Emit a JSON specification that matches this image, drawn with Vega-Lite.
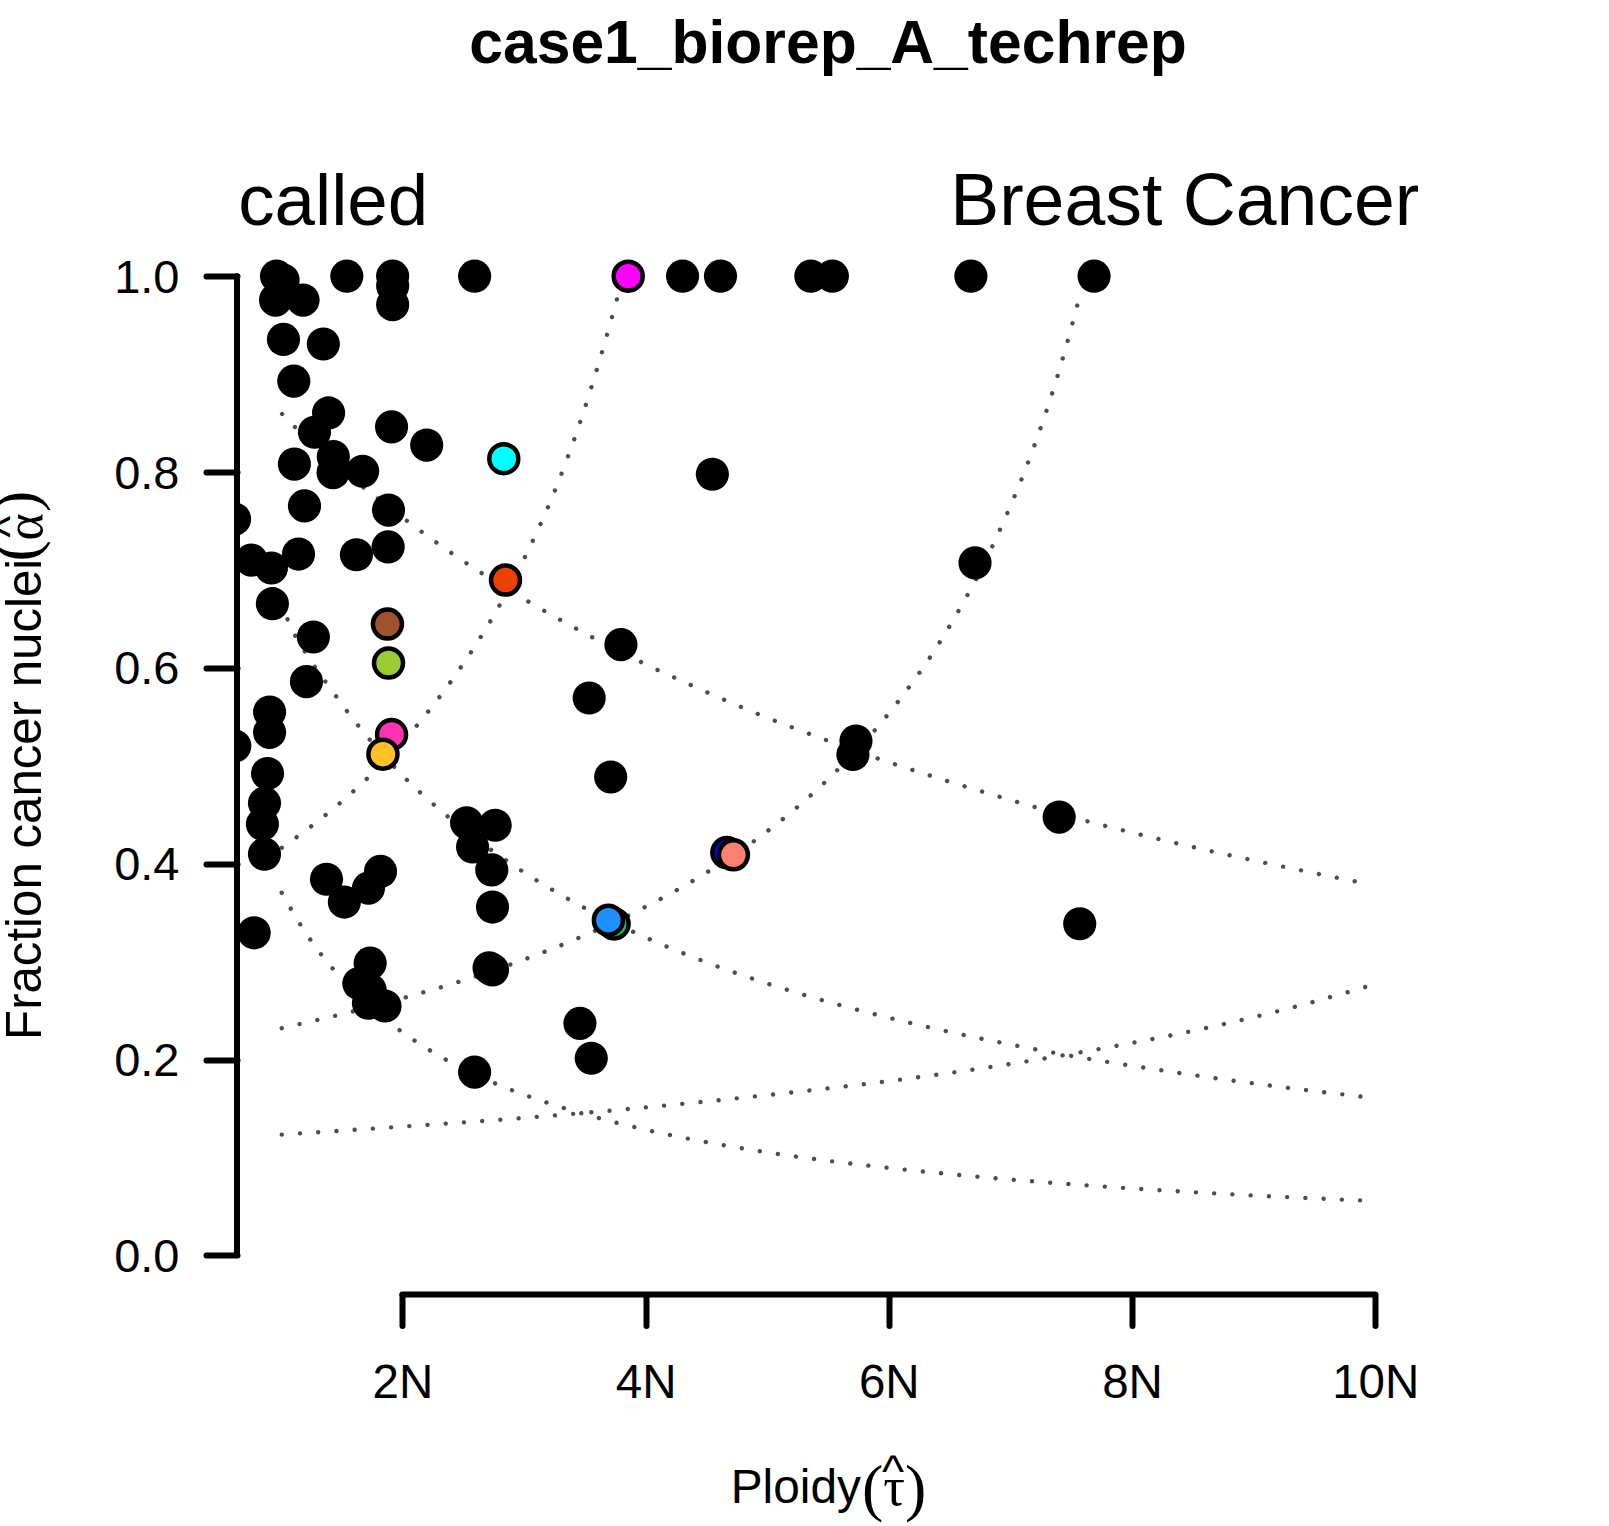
{
  "$schema": "https://vega.github.io/schema/vega-lite/v6.json",
  "description": "Ploidy against fraction of cancer nuclei, with dotted copy-number isolines",
  "width": 1182,
  "height": 1057.5,
  "autosize": {"type": "none"},
  "padding": {"left": 237, "top": 237, "right": 190, "bottom": 231.5},
  "background": "white",
  "config": {"view": {"stroke": null}, "font": "Liberation Sans"},
  "title": {
    "text": "case1_biorep_A_techrep",
    "font": "Liberation Sans",
    "fontSize": 60.6,
    "fontWeight": "bold",
    "color": "black",
    "anchor": "middle",
    "frame": "group",
    "baseline": "alphabetic",
    "offset": 43
  },
  "datasets": {
    "isolines": [
      {"curve": "f1", "ploidy": 1.011, "alpha": 0.8592},
      {"curve": "f1", "ploidy": 1.115, "alpha": 0.8461},
      {"curve": "f1", "ploidy": 2.041, "alpha": 0.7498},
      {"curve": "f1", "ploidy": 2.659, "alpha": 0.6961},
      {"curve": "f1", "ploidy": 3.046, "alpha": 0.6669},
      {"curve": "f1", "ploidy": 3.572, "alpha": 0.6305},
      {"curve": "f1", "ploidy": 3.975, "alpha": 0.6051},
      {"curve": "f1", "ploidy": 4.387, "alpha": 0.5816},
      {"curve": "f1", "ploidy": 4.941, "alpha": 0.552},
      {"curve": "f1", "ploidy": 5.504, "alpha": 0.5254},
      {"curve": "f1", "ploidy": 5.929, "alpha": 0.5066},
      {"curve": "f1", "ploidy": 6.504, "alpha": 0.4836},
      {"curve": "f1", "ploidy": 7.226, "alpha": 0.457},
      {"curve": "f1", "ploidy": 8.69, "alpha": 0.4117},
      {"curve": "f1", "ploidy": 9.28, "alpha": 0.396},
      {"curve": "f1", "ploidy": 9.88, "alpha": 0.3808},
      {"curve": "f2", "ploidy": 1.0, "alpha": 0.667},
      {"curve": "f2", "ploidy": 1.084, "alpha": 0.6414},
      {"curve": "f2", "ploidy": 1.237, "alpha": 0.6093},
      {"curve": "f2", "ploidy": 1.41, "alpha": 0.5786},
      {"curve": "f2", "ploidy": 1.588, "alpha": 0.5487},
      {"curve": "f2", "ploidy": 1.985, "alpha": 0.4921},
      {"curve": "f2", "ploidy": 2.319, "alpha": 0.4538},
      {"curve": "f2", "ploidy": 2.919, "alpha": 0.3978},
      {"curve": "f2", "ploidy": 3.437, "alpha": 0.3589},
      {"curve": "f2", "ploidy": 3.977, "alpha": 0.3259},
      {"curve": "f2", "ploidy": 4.536, "alpha": 0.2976},
      {"curve": "f2", "ploidy": 5.106, "alpha": 0.2734},
      {"curve": "f2", "ploidy": 5.684, "alpha": 0.2527},
      {"curve": "f2", "ploidy": 6.272, "alpha": 0.2346},
      {"curve": "f2", "ploidy": 7.305, "alpha": 0.2081},
      {"curve": "f2", "ploidy": 8.347, "alpha": 0.187},
      {"curve": "f2", "ploidy": 9.09, "alpha": 0.1741},
      {"curve": "f2", "ploidy": 10.0, "alpha": 0.1605},
      {"curve": "f3", "ploidy": 1.008, "alpha": 0.3703},
      {"curve": "f3", "ploidy": 1.161, "alpha": 0.3378},
      {"curve": "f3", "ploidy": 1.333, "alpha": 0.3072},
      {"curve": "f3", "ploidy": 1.427, "alpha": 0.2929},
      {"curve": "f3", "ploidy": 1.982, "alpha": 0.2295},
      {"curve": "f3", "ploidy": 2.231, "alpha": 0.209},
      {"curve": "f3", "ploidy": 2.772, "alpha": 0.1751},
      {"curve": "f3", "ploidy": 3.196, "alpha": 0.1557},
      {"curve": "f3", "ploidy": 3.629, "alpha": 0.1397},
      {"curve": "f3", "ploidy": 4.068, "alpha": 0.1264},
      {"curve": "f3", "ploidy": 4.66, "alpha": 0.1121},
      {"curve": "f3", "ploidy": 5.257, "alpha": 0.1005},
      {"curve": "f3", "ploidy": 5.855, "alpha": 0.0913},
      {"curve": "f3", "ploidy": 6.455, "alpha": 0.0835},
      {"curve": "f3", "ploidy": 6.905, "alpha": 0.0784},
      {"curve": "f3", "ploidy": 7.806, "alpha": 0.0699},
      {"curve": "f3", "ploidy": 8.859, "alpha": 0.062},
      {"curve": "f3", "ploidy": 9.93, "alpha": 0.0558},
      {"curve": "r1", "ploidy": 1.008, "alpha": 0.1233},
      {"curve": "r1", "ploidy": 2.061, "alpha": 0.132},
      {"curve": "r1", "ploidy": 2.817, "alpha": 0.1386},
      {"curve": "r1", "ploidy": 3.566, "alpha": 0.1462},
      {"curve": "r1", "ploidy": 4.465, "alpha": 0.1567},
      {"curve": "r1", "ploidy": 5.216, "alpha": 0.1666},
      {"curve": "r1", "ploidy": 5.814, "alpha": 0.1751},
      {"curve": "r1", "ploidy": 6.56, "alpha": 0.1873},
      {"curve": "r1", "ploidy": 7.305, "alpha": 0.2016},
      {"curve": "r1", "ploidy": 7.9, "alpha": 0.2146},
      {"curve": "r1", "ploidy": 8.64, "alpha": 0.233},
      {"curve": "r1", "ploidy": 9.37, "alpha": 0.2548},
      {"curve": "r1", "ploidy": 9.96, "alpha": 0.2755},
      {"curve": "r2", "ploidy": 1.008, "alpha": 0.232},
      {"curve": "r2", "ploidy": 1.302, "alpha": 0.2404},
      {"curve": "r2", "ploidy": 1.594, "alpha": 0.2491},
      {"curve": "r2", "ploidy": 2.033, "alpha": 0.2637},
      {"curve": "r2", "ploidy": 2.466, "alpha": 0.2794},
      {"curve": "r2", "ploidy": 2.896, "alpha": 0.2973},
      {"curve": "r2", "ploidy": 3.456, "alpha": 0.3245},
      {"curve": "r2", "ploidy": 4.004, "alpha": 0.3562},
      {"curve": "r2", "ploidy": 4.528, "alpha": 0.393},
      {"curve": "r2", "ploidy": 4.903, "alpha": 0.4241},
      {"curve": "r2", "ploidy": 5.485, "alpha": 0.4844},
      {"curve": "r2", "ploidy": 5.995, "alpha": 0.5527},
      {"curve": "r2", "ploidy": 6.433, "alpha": 0.629},
      {"curve": "r2", "ploidy": 6.864, "alpha": 0.7275},
      {"curve": "r2", "ploidy": 7.21, "alpha": 0.8315},
      {"curve": "r2", "ploidy": 7.399, "alpha": 0.9027},
      {"curve": "r2", "ploidy": 7.56, "alpha": 0.9749},
      {"curve": "r3", "ploidy": 1.008, "alpha": 0.4162},
      {"curve": "r3", "ploidy": 1.37, "alpha": 0.4498},
      {"curve": "r3", "ploidy": 1.707, "alpha": 0.4866},
      {"curve": "r3", "ploidy": 2.121, "alpha": 0.5414},
      {"curve": "r3", "ploidy": 2.398, "alpha": 0.5859},
      {"curve": "r3", "ploidy": 2.803, "alpha": 0.6647},
      {"curve": "r3", "ploidy": 3.014, "alpha": 0.7146},
      {"curve": "r3", "ploidy": 3.26, "alpha": 0.7829},
      {"curve": "r3", "ploidy": 3.468, "alpha": 0.8533},
      {"curve": "r3", "ploidy": 3.647, "alpha": 0.9248},
      {"curve": "r3", "ploidy": 3.77, "alpha": 0.979}
    ],
    "segments": [
      {"ploidy": 0.965, "alpha": 1.0},
      {"ploidy": 1.019, "alpha": 0.996},
      {"ploidy": 0.957, "alpha": 0.9756},
      {"ploidy": 1.183, "alpha": 0.9756},
      {"ploidy": 1.543, "alpha": 1.0},
      {"ploidy": 1.92, "alpha": 1.0},
      {"ploidy": 1.92, "alpha": 0.99},
      {"ploidy": 1.92, "alpha": 0.971},
      {"ploidy": 2.594, "alpha": 1.0},
      {"ploidy": 1.022, "alpha": 0.9354},
      {"ploidy": 1.35, "alpha": 0.9307},
      {"ploidy": 1.107, "alpha": 0.8928},
      {"ploidy": 1.393, "alpha": 0.8603},
      {"ploidy": 1.277, "alpha": 0.8406},
      {"ploidy": 1.911, "alpha": 0.8461},
      {"ploidy": 2.2, "alpha": 0.8275},
      {"ploidy": 1.112, "alpha": 0.8081},
      {"ploidy": 1.432, "alpha": 0.8158},
      {"ploidy": 1.43, "alpha": 0.7994},
      {"ploidy": 1.673, "alpha": 0.8008},
      {"ploidy": 1.195, "alpha": 0.7654},
      {"ploidy": 1.886, "alpha": 0.7611},
      {"ploidy": 0.62, "alpha": 0.7519},
      {"ploidy": 0.758, "alpha": 0.71},
      {"ploidy": 0.923, "alpha": 0.702},
      {"ploidy": 1.146, "alpha": 0.7162},
      {"ploidy": 1.622, "alpha": 0.7155},
      {"ploidy": 1.883, "alpha": 0.7235},
      {"ploidy": 0.931, "alpha": 0.6655},
      {"ploidy": 1.268, "alpha": 0.6315},
      {"ploidy": 1.211, "alpha": 0.5859},
      {"ploidy": 0.908, "alpha": 0.5549},
      {"ploidy": 0.908, "alpha": 0.5341},
      {"ploidy": 0.622, "alpha": 0.5202},
      {"ploidy": 0.891, "alpha": 0.4921},
      {"ploidy": 0.866, "alpha": 0.4618},
      {"ploidy": 0.849, "alpha": 0.4403},
      {"ploidy": 0.866, "alpha": 0.4097},
      {"ploidy": 1.376, "alpha": 0.3841},
      {"ploidy": 1.523, "alpha": 0.3608},
      {"ploidy": 1.721, "alpha": 0.375},
      {"ploidy": 1.82, "alpha": 0.3921},
      {"ploidy": 0.781, "alpha": 0.3294},
      {"ploidy": 1.735, "alpha": 0.2984},
      {"ploidy": 1.642, "alpha": 0.2776},
      {"ploidy": 1.735, "alpha": 0.271},
      {"ploidy": 1.721, "alpha": 0.2575},
      {"ploidy": 1.857, "alpha": 0.2546},
      {"ploidy": 2.528, "alpha": 0.4418},
      {"ploidy": 2.763, "alpha": 0.4392},
      {"ploidy": 2.577, "alpha": 0.417},
      {"ploidy": 2.735, "alpha": 0.3936},
      {"ploidy": 2.741, "alpha": 0.3557},
      {"ploidy": 2.713, "alpha": 0.2936},
      {"ploidy": 2.741, "alpha": 0.2915},
      {"ploidy": 2.594, "alpha": 0.1871},
      {"ploidy": 4.304, "alpha": 1.0},
      {"ploidy": 4.616, "alpha": 1.0},
      {"ploidy": 5.359, "alpha": 1.0},
      {"ploidy": 5.536, "alpha": 1.0},
      {"ploidy": 6.675, "alpha": 1.0},
      {"ploidy": 7.688, "alpha": 1.0},
      {"ploidy": 4.549, "alpha": 0.7977},
      {"ploidy": 6.709, "alpha": 0.7072},
      {"ploidy": 3.797, "alpha": 0.6237},
      {"ploidy": 3.536, "alpha": 0.5692},
      {"ploidy": 3.713, "alpha": 0.4885},
      {"ploidy": 5.73, "alpha": 0.5252},
      {"ploidy": 5.705, "alpha": 0.5115},
      {"ploidy": 7.401, "alpha": 0.4476},
      {"ploidy": 7.57, "alpha": 0.3386},
      {"ploidy": 3.46, "alpha": 0.2369},
      {"ploidy": 3.553, "alpha": 0.2013}
    ],
    "highlighted": [
      {"gene": "a", "ploidy": 3.857, "alpha": 1.0},
      {"gene": "b", "ploidy": 2.834, "alpha": 0.8136},
      {"gene": "c", "ploidy": 2.848, "alpha": 0.6896},
      {"gene": "d", "ploidy": 1.877, "alpha": 0.6447},
      {"gene": "e", "ploidy": 1.886, "alpha": 0.6049},
      {"gene": "f", "ploidy": 1.911, "alpha": 0.5319},
      {"gene": "g", "ploidy": 1.84, "alpha": 0.5118},
      {"gene": "h", "ploidy": 4.668, "alpha": 0.4113},
      {"gene": "i", "ploidy": 4.722, "alpha": 0.409},
      {"gene": "j", "ploidy": 3.741, "alpha": 0.3385},
      {"gene": "k", "ploidy": 3.694, "alpha": 0.3423}
    ]
  },
  "layer": [
    {
      "data": {"name": "isolines"},
      "mark": {"type": "line", "interpolate": "monotone", "color": "#4d4d4d", "strokeWidth": 4.4, "strokeCap": "round", "strokeDash": [0.01, 18.25], "clip": true},
      "encoding": {
        "x": {
          "field": "ploidy",
          "type": "quantitative",
          "scale": {"domain": [0.64, 10.36], "nice": false, "zero": false},
          "axis": {
            "title": null,
            "grid": false,
            "domain": false,
            "values": [2, 4, 6, 8, 10],
            "labelExpr": "datum.value + 'N'",
            "tickSize": 31,
            "tickWidth": 6,
            "tickColor": "black",
            "tickCap": "round",
            "labelFont": "Liberation Sans",
            "labelFontSize": 47.5,
            "labelColor": "black",
            "labelPadding": 34,
            "labelFlush": false
          }
        },
        "y": {
          "field": "alpha",
          "type": "quantitative",
          "scale": {"domain": [-0.04, 1.04], "nice": false, "zero": false},
          "axis": {
            "title": null,
            "grid": false,
            "domain": false,
            "values": [0, 0.2, 0.4, 0.6, 0.8, 1],
            "format": ".1f",
            "tickSize": 31,
            "tickWidth": 6,
            "tickColor": "black",
            "tickCap": "round",
            "labelFont": "Liberation Sans",
            "labelFontSize": 47,
            "labelColor": "black",
            "labelPadding": 27,
            "labelOffset": 2
          }
        },
        "detail": {"field": "curve"}
      }
    },
    {
      "data": {"name": "segments"},
      "mark": {"type": "circle", "color": "black", "opacity": 1, "size": 1100, "clip": true},
      "encoding": {
        "x": {"field": "ploidy", "type": "quantitative"},
        "y": {"field": "alpha", "type": "quantitative"}
      }
    },
    {
      "data": {"name": "highlighted"},
      "mark": {"type": "circle", "opacity": 1, "size": 841, "stroke": "black", "strokeWidth": 4.5, "clip": true},
      "encoding": {
        "x": {"field": "ploidy", "type": "quantitative"},
        "y": {"field": "alpha", "type": "quantitative"},
        "color": {
          "field": "gene",
          "type": "nominal",
          "legend": null,
          "scale": {
            "domain": ["a", "b", "c", "d", "e", "f", "g", "h", "i", "j", "k"],
            "range": ["#FF00FF", "#00FFFF", "#EE4000", "#A0522D", "#9ACD32", "#FF34B3", "#FFC125", "#0000FF", "#FA8072", "#00CD66", "#1E90FF"]
          }
        }
      }
    },
    {
      "data": {"values": [{"from": 0, "to": 1}]},
      "mark": {"type": "rule", "color": "black", "strokeWidth": 6, "strokeCap": "round"},
      "encoding": {
        "x": {"datum": 0.64},
        "y": {"field": "from", "type": "quantitative"},
        "y2": {"field": "to"}
      }
    },
    {
      "data": {"values": [{"from": 2, "to": 10}]},
      "mark": {"type": "rule", "color": "black", "strokeWidth": 6, "strokeCap": "round"},
      "encoding": {
        "x": {"field": "from", "type": "quantitative"},
        "x2": {"field": "to"},
        "y": {"datum": -0.04}
      }
    },
    {
      "data": {"values": [{"label": "called"}]},
      "mark": {"type": "text", "font": "Liberation Sans", "fontSize": 72.7, "align": "left", "baseline": "alphabetic", "color": "black"},
      "encoding": {"x": {"datum": 0.65}, "y": {"datum": 1.0518}, "text": {"field": "label"}}
    },
    {
      "data": {"values": [{"label": "Breast Cancer"}]},
      "mark": {"type": "text", "font": "Liberation Sans", "fontSize": 73.4, "align": "left", "baseline": "alphabetic", "color": "black"},
      "encoding": {"x": {"datum": 6.505}, "y": {"datum": 1.0518}, "text": {"field": "label"}}
    },
    {
      "data": {"values": [{"label": "Ploidy"}]},
      "mark": {"type": "text", "font": "Liberation Sans", "fontSize": 47.8, "align": "left", "baseline": "alphabetic", "color": "black"},
      "encoding": {"x": {"datum": 4.7}, "y": {"datum": -0.253}, "text": {"field": "label"}}
    },
    {
      "data": {"values": [{"label": "("}]},
      "mark": {"type": "text", "font": "Liberation Serif", "fontSize": 64, "align": "center", "baseline": "alphabetic", "color": "black"},
      "encoding": {"x": {"datum": 5.867}, "y": {"datum": -0.259}, "text": {"field": "label"}}
    },
    {
      "data": {"values": [{"label": "τ"}]},
      "mark": {"type": "text", "font": "Liberation Serif", "fontSize": 54, "align": "center", "baseline": "alphabetic", "color": "black"},
      "encoding": {"x": {"datum": 6.043}, "y": {"datum": -0.255}, "text": {"field": "label"}}
    },
    {
      "data": {"values": [{"label": "^"}]},
      "mark": {"type": "text", "font": "Liberation Sans", "fontSize": 47, "align": "center", "baseline": "alphabetic", "color": "black"},
      "encoding": {"x": {"datum": 6.035}, "y": {"datum": -0.2371}, "text": {"field": "label"}}
    },
    {
      "data": {"values": [{"label": ")"}]},
      "mark": {"type": "text", "font": "Liberation Serif", "fontSize": 64, "align": "center", "baseline": "alphabetic", "color": "black"},
      "encoding": {"x": {"datum": 6.221}, "y": {"datum": -0.259}, "text": {"field": "label"}}
    },
    {
      "data": {"values": [{"label": "Fraction cancer nuclei"}]},
      "mark": {"type": "text", "font": "Liberation Sans", "fontSize": 49.2, "angle": 270, "align": "left", "baseline": "alphabetic", "color": "black"},
      "encoding": {"x": {"datum": -0.971}, "y": {"datum": 0.22}, "text": {"field": "label"}}
    },
    {
      "data": {"values": [{"label": "("}]},
      "mark": {"type": "text", "font": "Liberation Serif", "fontSize": 64, "angle": 270, "align": "center", "baseline": "alphabetic", "color": "black"},
      "encoding": {"x": {"datum": -1.004}, "y": {"datum": 0.7195}, "text": {"field": "label"}}
    },
    {
      "data": {"values": [{"label": "α"}]},
      "mark": {"type": "text", "font": "Liberation Serif", "fontSize": 52, "angle": 270, "align": "center", "baseline": "alphabetic", "color": "black"},
      "encoding": {"x": {"datum": -0.964}, "y": {"datum": 0.744}, "text": {"field": "label"}}
    },
    {
      "data": {"values": [{"label": "^"}]},
      "mark": {"type": "text", "font": "Liberation Sans", "fontSize": 47, "angle": 270, "align": "center", "baseline": "alphabetic", "color": "black"},
      "encoding": {"x": {"datum": -1.107}, "y": {"datum": 0.744}, "text": {"field": "label"}}
    },
    {
      "data": {"values": [{"label": ")"}]},
      "mark": {"type": "text", "font": "Liberation Serif", "fontSize": 64, "angle": 270, "align": "center", "baseline": "alphabetic", "color": "black"},
      "encoding": {"x": {"datum": -1.004}, "y": {"datum": 0.7701}, "text": {"field": "label"}}
    }
  ]
}
